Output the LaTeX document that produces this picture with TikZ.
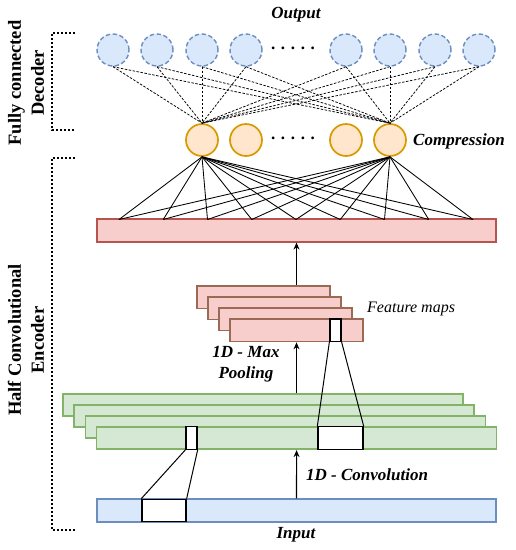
\documentclass[tikz,border=0pt]{standalone}
\usepackage{fontspec}
\setmainfont{Liberation Serif}
\usetikzlibrary{arrows.meta}
\definecolor{outfill}{HTML}{DAE8FC}
\definecolor{outdraw}{HTML}{6C8EBF}
\definecolor{cfill}{HTML}{FFE6CC}
\definecolor{cdraw}{HTML}{D79B00}
\definecolor{rfill}{HTML}{F8CECC}
\definecolor{rdraw}{HTML}{B85450}
\definecolor{fdraw}{HTML}{9A6A55}
\definecolor{gfill}{HTML}{D5E8D4}
\definecolor{gdraw}{HTML}{82B366}
\begin{document}
\begin{tikzpicture}[x=1pt,y=-1pt,
  outnode/.style={circle, draw=outdraw, fill=outfill, dash pattern=on 4.5pt off 2.5pt, line width=1.4pt, minimum size=32pt, inner sep=0pt},
  cnode/.style={circle, draw=cdraw, fill=cfill, line width=1.7pt, minimum size=32pt, inner sep=0pt},
  barbox/.style={rectangle, line width=1.7pt, inner sep=0pt, minimum height=22.5pt},
  redbar/.style={barbox, draw=rdraw, fill=rfill},
  fmap/.style={barbox, draw=fdraw, fill=rfill, minimum width=133pt},
  gmap/.style={barbox, draw=gdraw, fill=gfill, minimum width=400pt},
  inbar/.style={barbox, draw=outdraw, fill=outfill},
  winbox/.style={rectangle, draw=black, fill=white, line width=1.3pt, inner sep=0pt, minimum height=22.5pt},
  declink/.style={draw=black, line width=0.75pt, dash pattern=on 2.5pt off 1.5pt},
  enclink/.style={draw=black, line width=0.85pt},
  kernlink/.style={draw=black, line width=1pt},
  uparrow/.style={draw=black, line width=1.1pt, -{Stealth[length=7pt,width=6pt]}},
  bracket/.style={draw=black, line width=1.8pt, dash pattern=on 1.6pt off 2.4pt},
  lbl/.style={font=\fontsize{17}{21}\selectfont\bfseries\itshape, inner sep=0pt},
  sidelbl/.style={font=\fontsize{18.5}{23}\selectfont\bfseries, align=center, rotate=90, inner sep=0pt},
  dotsnode/.style={font=\fontsize{17}{21}\selectfont\bfseries, inner sep=0pt}
]
\useasboundingbox (0,0) rectangle (516,550);

% output layer
\foreach \i/\x in {1/113,2/157,3/202,4/246,5/346,6/390,7/435,8/479}
  \node[outnode] (o\i) at (\x,50) {};
\node[dotsnode] (odots) at (293,48) {. . . . .};
\node[lbl] (outlbl) at (296,15) {Output};

% compression layer
\node[cnode] (c1) at (202,140) {};
\node[cnode] (c2) at (246,140) {};
\node[cnode] (c3) at (346,140) {};
\node[cnode] (c4) at (390,140) {};
\node[dotsnode] (cdots) at (293,138) {. . . . .};
\node[lbl, anchor=west] (complbl) at (413,141) {Compression};

% decoder links
\foreach \i in {1,...,8}{
  \draw[declink] (o\i.south) -- (c1.north);
  \draw[declink] (o\i.south) -- (c4.north);
}

% red dense bar
\node[redbar, minimum width=399pt] (red) at (296.5,230.5) {};
\foreach \k in {0,...,8}{
  \coordinate (p\k) at ({119+44.25*\k},219.5);
  \draw[enclink] (c1.south) -- (p\k);
  \draw[enclink] (c4.south) -- (p\k);
}

% feature maps
\foreach \k in {0,1,2,3}
  \node[fmap] (f\k) at ({263.5+11*\k},{297.25+11*\k}) {};
\node[winbox, minimum width=11pt] (wf) at (335.5,330.25) {};
\node[font=\fontsize{16}{20}\selectfont\itshape, anchor=west, inner sep=0pt] (fmlbl) at (367,309) {Feature maps};

% green maps
\foreach \k in {0,1,2,3}
  \node[gmap] (g\k) at ({263+11.2*\k},{405+11*\k}) {};
\node[winbox, minimum width=45pt] (wgbig) at (340.5,438) {};
\node[winbox, minimum width=11pt] (wgsmall) at (191.5,438) {};

% input bar
\node[inbar, minimum width=399pt] (inb) at (296.5,510.5) {};
\node[winbox, minimum width=44pt] (win) at (164,510.5) {};
\node[lbl] (inlbl) at (296,535) {Input};

% kernel links
\draw[kernlink] (wgbig.north west) -- (wf.south west);
\draw[kernlink] (wgbig.north east) -- (wf.south east);
\draw[kernlink] (win.north west) -- (wgsmall.south west);
\draw[kernlink] (win.north east) -- (wgsmall.south east);

% arrows
\draw[uparrow] (inb.north) -- (g3.south);
\draw[uparrow] (f3.south |- g0.north) -- (f3.south);
\draw[uparrow] (red.south |- f0.north) -- (red.south);
\node[lbl, align=center] (poollbl) at (246,364) {1D - Max\\Pooling};
\node[lbl, anchor=west] (convlbl) at (306,475) {1D - Convolution};

% side brackets
\coordinate (dtop) at (75,33);
\coordinate (dbot) at (75,130);
\coordinate (etop) at (75,158);
\coordinate (ebot) at (75,530);
\draw[bracket] (dtop) -- (52,33) -- (52,130) -- (dbot);
\draw[bracket] (etop) -- (52,158) -- (52,530) -- (ebot);
\node[sidelbl] (declbl) at (26,83) {Fully connected\\Decoder};
\node[sidelbl] (enclbl) at (26,340) {Half Convolutional\\Encoder};
\end{tikzpicture}
\end{document}
